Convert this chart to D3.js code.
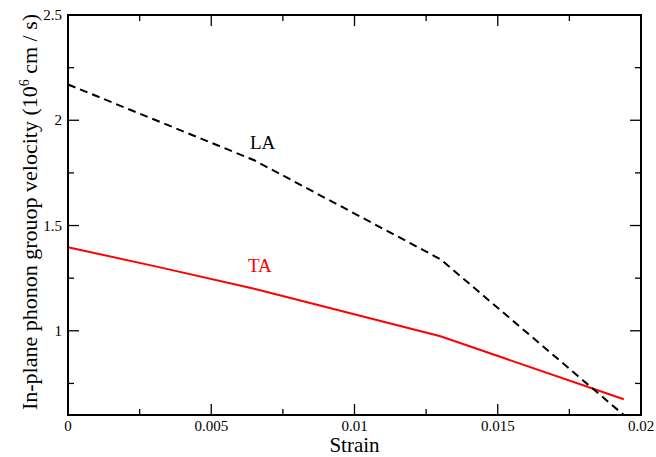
<!DOCTYPE html>
<meta charset="utf-8">
<html>
<head>
    <title>Phonon group velocity vs strain</title>
    <script type="text/javascript" src="https://cdn.jsdelivr.net/npm/d3@7"></script>
    <style>
        body { margin: 0; background: white; }
    </style>
</head>
<body>
    <div id="chart"></div>
    <script>
        // data
        var strainLA = [0, 0.00325, 0.0065, 0.013, 0.0194];
        var velocityLA = [2.17, 1.99, 1.81, 1.34, 0.6];
        var strainTA = [0, 0.00325, 0.0065, 0.013, 0.0194];
        var velocityTA = [1.397, 1.30, 1.20, 0.974, 0.675];
        var xTicks = [0, 0.005, 0.01, 0.015, 0.02];
        var xTickLabels = ["0", "0.005", "0.01", "0.015", "0.02"];
        var yTicks = [1, 1.5, 2, 2.5];
        var yTickLabels = ["1", "1.5", "2", "2.5"];

        var width = 656, height = 457;
        var margin = { top: 15, right: 15, bottom: 42, left: 68 };
        var serif = "'Liberation Serif', 'DejaVu Serif', serif";

        var svg = d3.select("#chart")
            .append("svg")
            .attr("width", width)
            .attr("height", height)
            .attr("font-family", serif);

        var x = d3.scaleLinear()
            .domain([0, 0.02])
            .range([margin.left, width - margin.right]);

        var y = d3.scaleLinear()
            .domain([0.6, 2.5])
            .range([height - margin.bottom, margin.top]);

        var x0 = x.range()[0], x1 = x.range()[1];
        var y0 = y.range()[0], y1 = y.range()[1];

        // ticks on all four sides, pointing inward
        var xMinor = d3.range(0.0025, 0.02, 0.005);
        var yMinor = [0.75, 1.25, 1.75, 2.25];
        var ticks = svg.append("g").attr("stroke", "black").attr("stroke-width", 1.3);

        xTicks.forEach(function (t) {
            ticks.append("line").attr("x1", x(t)).attr("x2", x(t)).attr("y1", y0).attr("y2", y0 - 11);
            ticks.append("line").attr("x1", x(t)).attr("x2", x(t)).attr("y1", y1).attr("y2", y1 + 11);
        });
        xMinor.forEach(function (t) {
            ticks.append("line").attr("x1", x(t)).attr("x2", x(t)).attr("y1", y0).attr("y2", y0 - 6);
            ticks.append("line").attr("x1", x(t)).attr("x2", x(t)).attr("y1", y1).attr("y2", y1 + 6);
        });
        yTicks.forEach(function (t) {
            ticks.append("line").attr("x1", x0).attr("x2", x0 + 11).attr("y1", y(t)).attr("y2", y(t));
            ticks.append("line").attr("x1", x1).attr("x2", x1 - 11).attr("y1", y(t)).attr("y2", y(t));
        });
        yMinor.forEach(function (t) {
            ticks.append("line").attr("x1", x0).attr("x2", x0 + 6).attr("y1", y(t)).attr("y2", y(t));
            ticks.append("line").attr("x1", x1).attr("x2", x1 - 6).attr("y1", y(t)).attr("y2", y(t));
        });

        // tick labels
        svg.selectAll(".xlab")
            .data(xTicks)
            .enter()
            .append("text")
            .attr("x", function (d) { return x(d); })
            .attr("y", y0 + 16)
            .attr("text-anchor", "middle")
            .style("font-size", "15px")
            .text(function (d, i) { return xTickLabels[i]; });

        svg.selectAll(".ylab")
            .data(yTicks)
            .enter()
            .append("text")
            .attr("x", x0 - 6)
            .attr("y", function (d) { return y(d) + 5; })
            .attr("text-anchor", "end")
            .style("font-size", "15px")
            .text(function (d, i) { return yTickLabels[i]; });

        // lines
        var line = d3.line()
            .x(function (d) { return x(d[0]); })
            .y(function (d) { return y(d[1]); });

        svg.append("path")
            .datum(d3.zip(strainTA, velocityTA))
            .attr("fill", "none")
            .attr("stroke", "#ff0000")
            .attr("stroke-width", 2)
            .attr("d", line);

        svg.append("path")
            .datum(d3.zip(strainLA, velocityLA))
            .attr("fill", "none")
            .attr("stroke", "black")
            .attr("stroke-width", 2)
            .attr("stroke-dasharray", "8,5")
            .attr("d", line);

        // frame
        svg.append("rect")
            .attr("x", x0).attr("y", y1)
            .attr("width", x1 - x0).attr("height", y0 - y1)
            .attr("fill", "none")
            .attr("stroke", "black")
            .attr("stroke-width", 2);

        // series labels
        svg.append("text")
            .attr("x", 250).attr("y", 149)
            .style("font-size", "19px")
            .text("LA");

        svg.append("text")
            .attr("x", 248).attr("y", 272)
            .attr("fill", "#ff0000")
            .style("font-size", "19px")
            .text("TA");

        // axis titles
        svg.append("text")
            .attr("x", (x0 + x1) / 2)
            .attr("y", 452)
            .attr("text-anchor", "middle")
            .style("font-size", "21px")
            .text("Strain");

        var yTitle = svg.append("text")
            .attr("transform", "translate(37,212) rotate(-90)")
            .attr("text-anchor", "middle")
            .style("font-size", "22px");
        yTitle.append("tspan").text("In-plane phonon grouop velocity (10");
        yTitle.append("tspan").attr("dy", -8).style("font-size", "14px").text("6");
        yTitle.append("tspan").attr("dy", 8).text(" cm / s)");
    </script>
</body>
</html>
